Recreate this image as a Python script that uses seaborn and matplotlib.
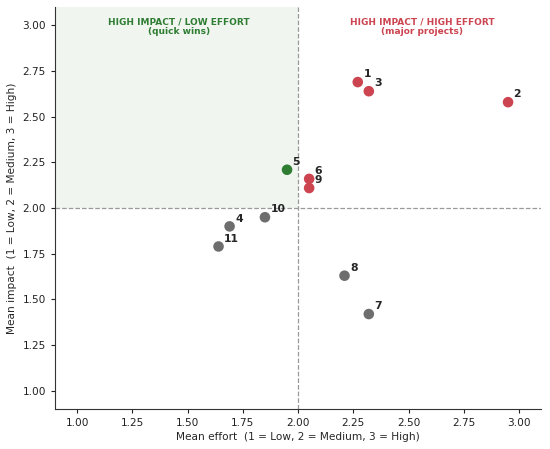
import pandas as pd
import matplotlib
matplotlib.use("Agg")
import matplotlib.pyplot as plt
import seaborn as sns

# survey items: mean effort / mean impact
item_ids = ["1", "2", "3", "4", "5", "6", "7", "8", "9", "10", "11"]
mean_effort = [2.27, 2.95, 2.32, 1.69, 1.95, 2.05, 2.32, 2.21, 2.05, 1.85, 1.64]
mean_impact = [2.69, 2.58, 2.64, 1.90, 2.21, 2.16, 1.42, 1.63, 2.11, 1.95, 1.79]

colors = {"quick": "#2e7d32", "major": "#cc4450", "other": "#6e6e6e"}


def quadrant(e, i):
  if i > 2 and e < 2:
    return "quick"
  if i > 2 and e >= 2:
    return "major"
  return "other"


df = pd.DataFrame({"id": item_ids, "effort": mean_effort, "impact": mean_impact})
df["group"] = [quadrant(e, i) for e, i in zip(df["effort"], df["impact"])]

sns.set_style("ticks")
fig, ax = plt.subplots(figsize=(5.5, 4.49), dpi=100)

ax.axvspan(0.9, 2.0, ymin=(2.0 - 0.9) / 2.2, ymax=1.0, color="#2e7d32", alpha=0.07, lw=0)
ax.axhline(2.0, color="#999999", ls="--", lw=0.9)
ax.axvline(2.0, color="#999999", ls="--", lw=0.9)

sns.scatterplot(data=df, x="effort", y="impact", hue="group", palette=colors,
                s=58, edgecolor="none", legend=False, ax=ax, zorder=3)

for _, r in df.iterrows():
  ax.annotate(r["id"], (r["effort"], r["impact"]), xytext=(4, 2),
              textcoords="offset points", ha="left", va="bottom",
              fontsize=7.8, fontweight="bold")

ax.text(1.46, 3.042, "HIGH IMPACT / LOW EFFORT\n(quick wins)", ha="center", va="top",
        fontsize=6.5, fontweight="bold", color="#2e7d32", linespacing=1.1)
ax.text(2.56, 3.042, "HIGH IMPACT / HIGH EFFORT\n(major projects)", ha="center", va="top",
        fontsize=6.5, fontweight="bold", color="#cc4450", linespacing=1.1)

ax.set_xlim(0.9, 3.1)
ax.set_ylim(0.9, 3.1)
ax.set_xticks([1.0, 1.25, 1.5, 1.75, 2.0, 2.25, 2.5, 2.75, 3.0])
ax.set_yticks([1.0, 1.25, 1.5, 1.75, 2.0, 2.25, 2.5, 2.75, 3.0])
ax.xaxis.set_major_formatter(matplotlib.ticker.FormatStrFormatter("%.2f"))
ax.yaxis.set_major_formatter(matplotlib.ticker.FormatStrFormatter("%.2f"))
ax.tick_params(labelsize=7.6, length=3, width=0.8, colors="#222222")
ax.set_xlabel("Mean effort  (1 = Low, 2 = Medium, 3 = High)", fontsize=7.6, labelpad=3)
ax.set_ylabel("Mean impact  (1 = Low, 2 = Medium, 3 = High)", fontsize=7.6, labelpad=4)
for sp in ax.spines.values():
  sp.set_color("#333333")
sns.despine(ax=ax)

plt.subplots_adjust(left=0.1, right=0.984, top=0.984, bottom=0.089)
plt.savefig("out.png")
